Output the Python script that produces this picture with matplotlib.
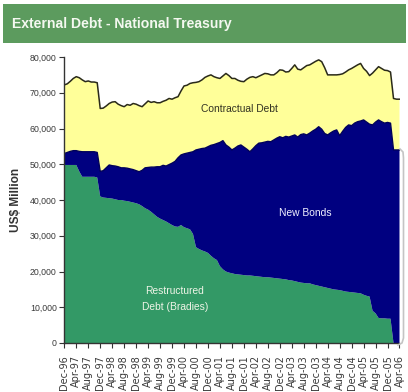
import matplotlib
matplotlib.use("Agg")
import matplotlib.pyplot as plt
from matplotlib import font_manager
from matplotlib.patches import Rectangle
from matplotlib.lines import Line2D
import numpy as np

# Monthly stock of external debt, US$ million, Dec-96 .. Apr-06
months = (["Dec-96"]
          + [f"{m}-{y % 100:02d}" for y in range(97, 107)
             for m in ["Jan", "Feb", "Mar", "Apr", "May", "Jun",
                       "Jul", "Aug", "Sep", "Oct", "Nov", "Dec"]])[:113]

bradies = [
    49800, 49800, 49800, 49800, 49800, 48000, 46500, 46500, 46500, 46500,
    46500, 46300, 41000, 40700, 40600, 40500, 40400, 40200, 40000, 40000,
    39800, 39700, 39500, 39300, 39100, 38800, 38300, 37700, 37300, 36700,
    36000, 35300, 34800, 34400, 34000, 33500, 33000, 32600, 32500, 33000,
    32400, 32100, 31800, 30500, 26800, 26300, 25900, 25600, 25200, 24400,
    23700, 23200, 21500, 20600, 20000, 19700, 19500, 19300, 19200, 19100,
    19000, 18900, 18900, 18800, 18700, 18600, 18500, 18400, 18400, 18300,
    18200, 18100, 18000, 17900, 17800, 17600, 17500, 17300, 17100, 16900,
    16800, 16700, 16700, 16400, 16200, 16000, 15800, 15600, 15400, 15200,
    15000, 14900, 14800, 14600, 14400, 14300, 14200, 14100, 14000, 13900,
    13500, 13200, 13000, 9000, 8300, 7000, 6900, 6900, 6800, 6800,
    0, 0, 0]

new_bonds = [
    3200, 3500, 3800, 4000, 4000, 5600, 7000, 7000, 7000, 7000,
    7000, 7000, 7000, 7500, 8400, 9300, 9200, 9300, 9300, 9000,
    9200, 9200, 9200, 9200, 9100, 9100, 10000, 11300, 11800, 12500,
    13200, 14000, 14500, 15300, 15500, 16400, 17300, 18200, 19300, 19600,
    20500, 21000, 21500, 23000, 27200, 27900, 28500, 28900, 29700, 30900,
    31800, 32600, 34600, 36000, 35400, 35100, 34500, 35200, 35900, 36300,
    35800, 35300, 34600, 35500, 36500, 37300, 37500, 37800, 38000, 38000,
    38600, 39200, 39700, 39500, 40000, 40000, 40400, 40900, 40500, 41400,
    41700, 41500, 42000, 42900, 43600, 44500, 44000, 43000, 42800, 43600,
    44300, 44700, 43200, 44600, 45900, 46700, 46600, 47400, 47900, 48200,
    48900, 48600, 48200, 52000, 53500, 55400, 55000, 54600, 54900, 54700,
    54000, 54000, 54000]

contractual = [
    19200, 19200, 19600, 20200, 20700, 20600, 20100, 19600, 19800, 19500,
    19500, 19500, 17600, 17500, 17300, 17200, 17800, 18000, 17500, 17400,
    17100, 17800, 17800, 18500, 18600, 18500, 17800, 17900, 18600, 18100,
    18300, 17900, 17900, 17900, 18400, 18500, 17900, 17800, 17100, 17900,
    19000, 19000, 19300, 19300, 18900, 18900, 19200, 19800, 19800, 19700,
    19000, 18400, 17900, 18100, 20000, 20000, 20000, 19500, 18400, 17800,
    18300, 19600, 20800, 20200, 19000, 18700, 19000, 19200, 18900, 18700,
    18200, 18300, 18700, 18900, 18000, 18300, 18900, 19600, 19000, 18100,
    18500, 19400, 19100, 19000, 19000, 18700, 18900, 18400, 16800, 16200,
    15700, 15400, 17100, 16100, 15500, 15400, 16000, 15800, 15900, 16100,
    14400, 14200, 13600, 14500, 14600, 14900, 14900, 14800, 14500, 14300,
    14400, 14200, 14200]

tick_labels = months[::4]
y_ticks = [0, 10000, 20000, 30000, 40000, 50000, 60000, 70000, 80000]


def available(name):
    try:
        font_manager.findfont(font_manager.FontProperties(family=name),
                              fallback_to_default=False)
        return True
    except ValueError:
        return False


if available("Liberation Sans Narrow"):
    narrow, k = "Liberation Sans Narrow", 1.0
else:
    narrow, k = "Liberation Sans", 0.82

W, H = 408, 392
fig = plt.figure(figsize=(W / 100, H / 100), dpi=100)
fig.patch.set_facecolor("white")

# title band
fig.patches.append(Rectangle((3 / W, 1 - 43 / H), 403 / W, 39 / H,
                             transform=fig.transFigure, facecolor="#5c9b5e",
                             edgecolor="none", zorder=0))
fig.text(12 / W, 1 - 24 / H, "External Debt - National Treasury",
         family=[narrow, "DejaVu Sans"], fontweight="bold",
         fontsize=12.3 * k, color="#f4f8f0", ha="left", va="center")

ax = fig.add_axes([64.3 / W, 49 / H, 335.2 / W, 286 / H])
x = np.arange(len(bradies))
ax.stackplot(x, bradies, new_bonds, contractual,
             colors=["#339966", "#000080", "#ffff99"], linewidth=0)

b = np.array(bradies)
nb = b + np.array(new_bonds)
tot = nb + np.array(contractual)
ax.plot(x, nb, color="#00005a", lw=1.0)
ax.plot(x, tot, color="#2a2a1a", lw=1.1, solid_joinstyle="round")

ax.set_xlim(0, len(bradies) - 1)
ax.set_ylim(0, 80000)
ax.set_facecolor("white")
for s in ["top", "right"]:
    ax.spines[s].set_visible(False)
for s in ["left", "bottom"]:
    ax.spines[s].set_color("#333333")
    ax.spines[s].set_linewidth(1.0)

ax.set_yticks(y_ticks)
ax.set_yticklabels([f"{v:,}" for v in y_ticks], family="Liberation Sans",
                   fontsize=6.3, color="#3a3a3a")
ax.set_xticks(x[::4])
ax.set_xticklabels(tick_labels, rotation=90, family="DejaVu Sans",
                   fontsize=7.0, color="#3a3a3a", va="top")
ax.tick_params(axis="y", length=3.5, width=0.8, color="#333333", pad=2)
ax.tick_params(axis="x", length=3.5, width=0.8, color="#333333", pad=5)

ax.set_ylabel("US$ Million", family="Liberation Sans", fontweight="bold",
              fontsize=8.6, color="#333333", labelpad=0)
ax.yaxis.set_label_coords((21.7 - 64.3) / 335.2, (343 - 200) / 286)

ax.text(58.5, 65500, "Contractual Debt", family=[narrow, "DejaVu Sans"],
        fontsize=9 * k, color="#333322", ha="center", va="center")
ax.text(80.5, 36300, "New Bonds", family=[narrow, "DejaVu Sans"],
        fontsize=9 * k, color="#f0f0ff", ha="center", va="center")
ax.text(36.9, 12300, "Restructured\nDebt (Bradies)", family=[narrow, "DejaVu Sans"],
        fontsize=9 * k, color="#eef4e6", ha="center", va="center",
        linespacing=1.75)

# side bracket beside the last column
bx = [400, 403, 403.5, 403.5, 402, 398]
by = [149, 152, 158, 338, 343, 345]
fig.add_artist(Line2D([v / W for v in bx], [1 - v / H for v in by],
                      transform=fig.transFigure, color="#c4c4c4", lw=1.2))

fig.savefig("out.png", dpi=100, facecolor="white")
